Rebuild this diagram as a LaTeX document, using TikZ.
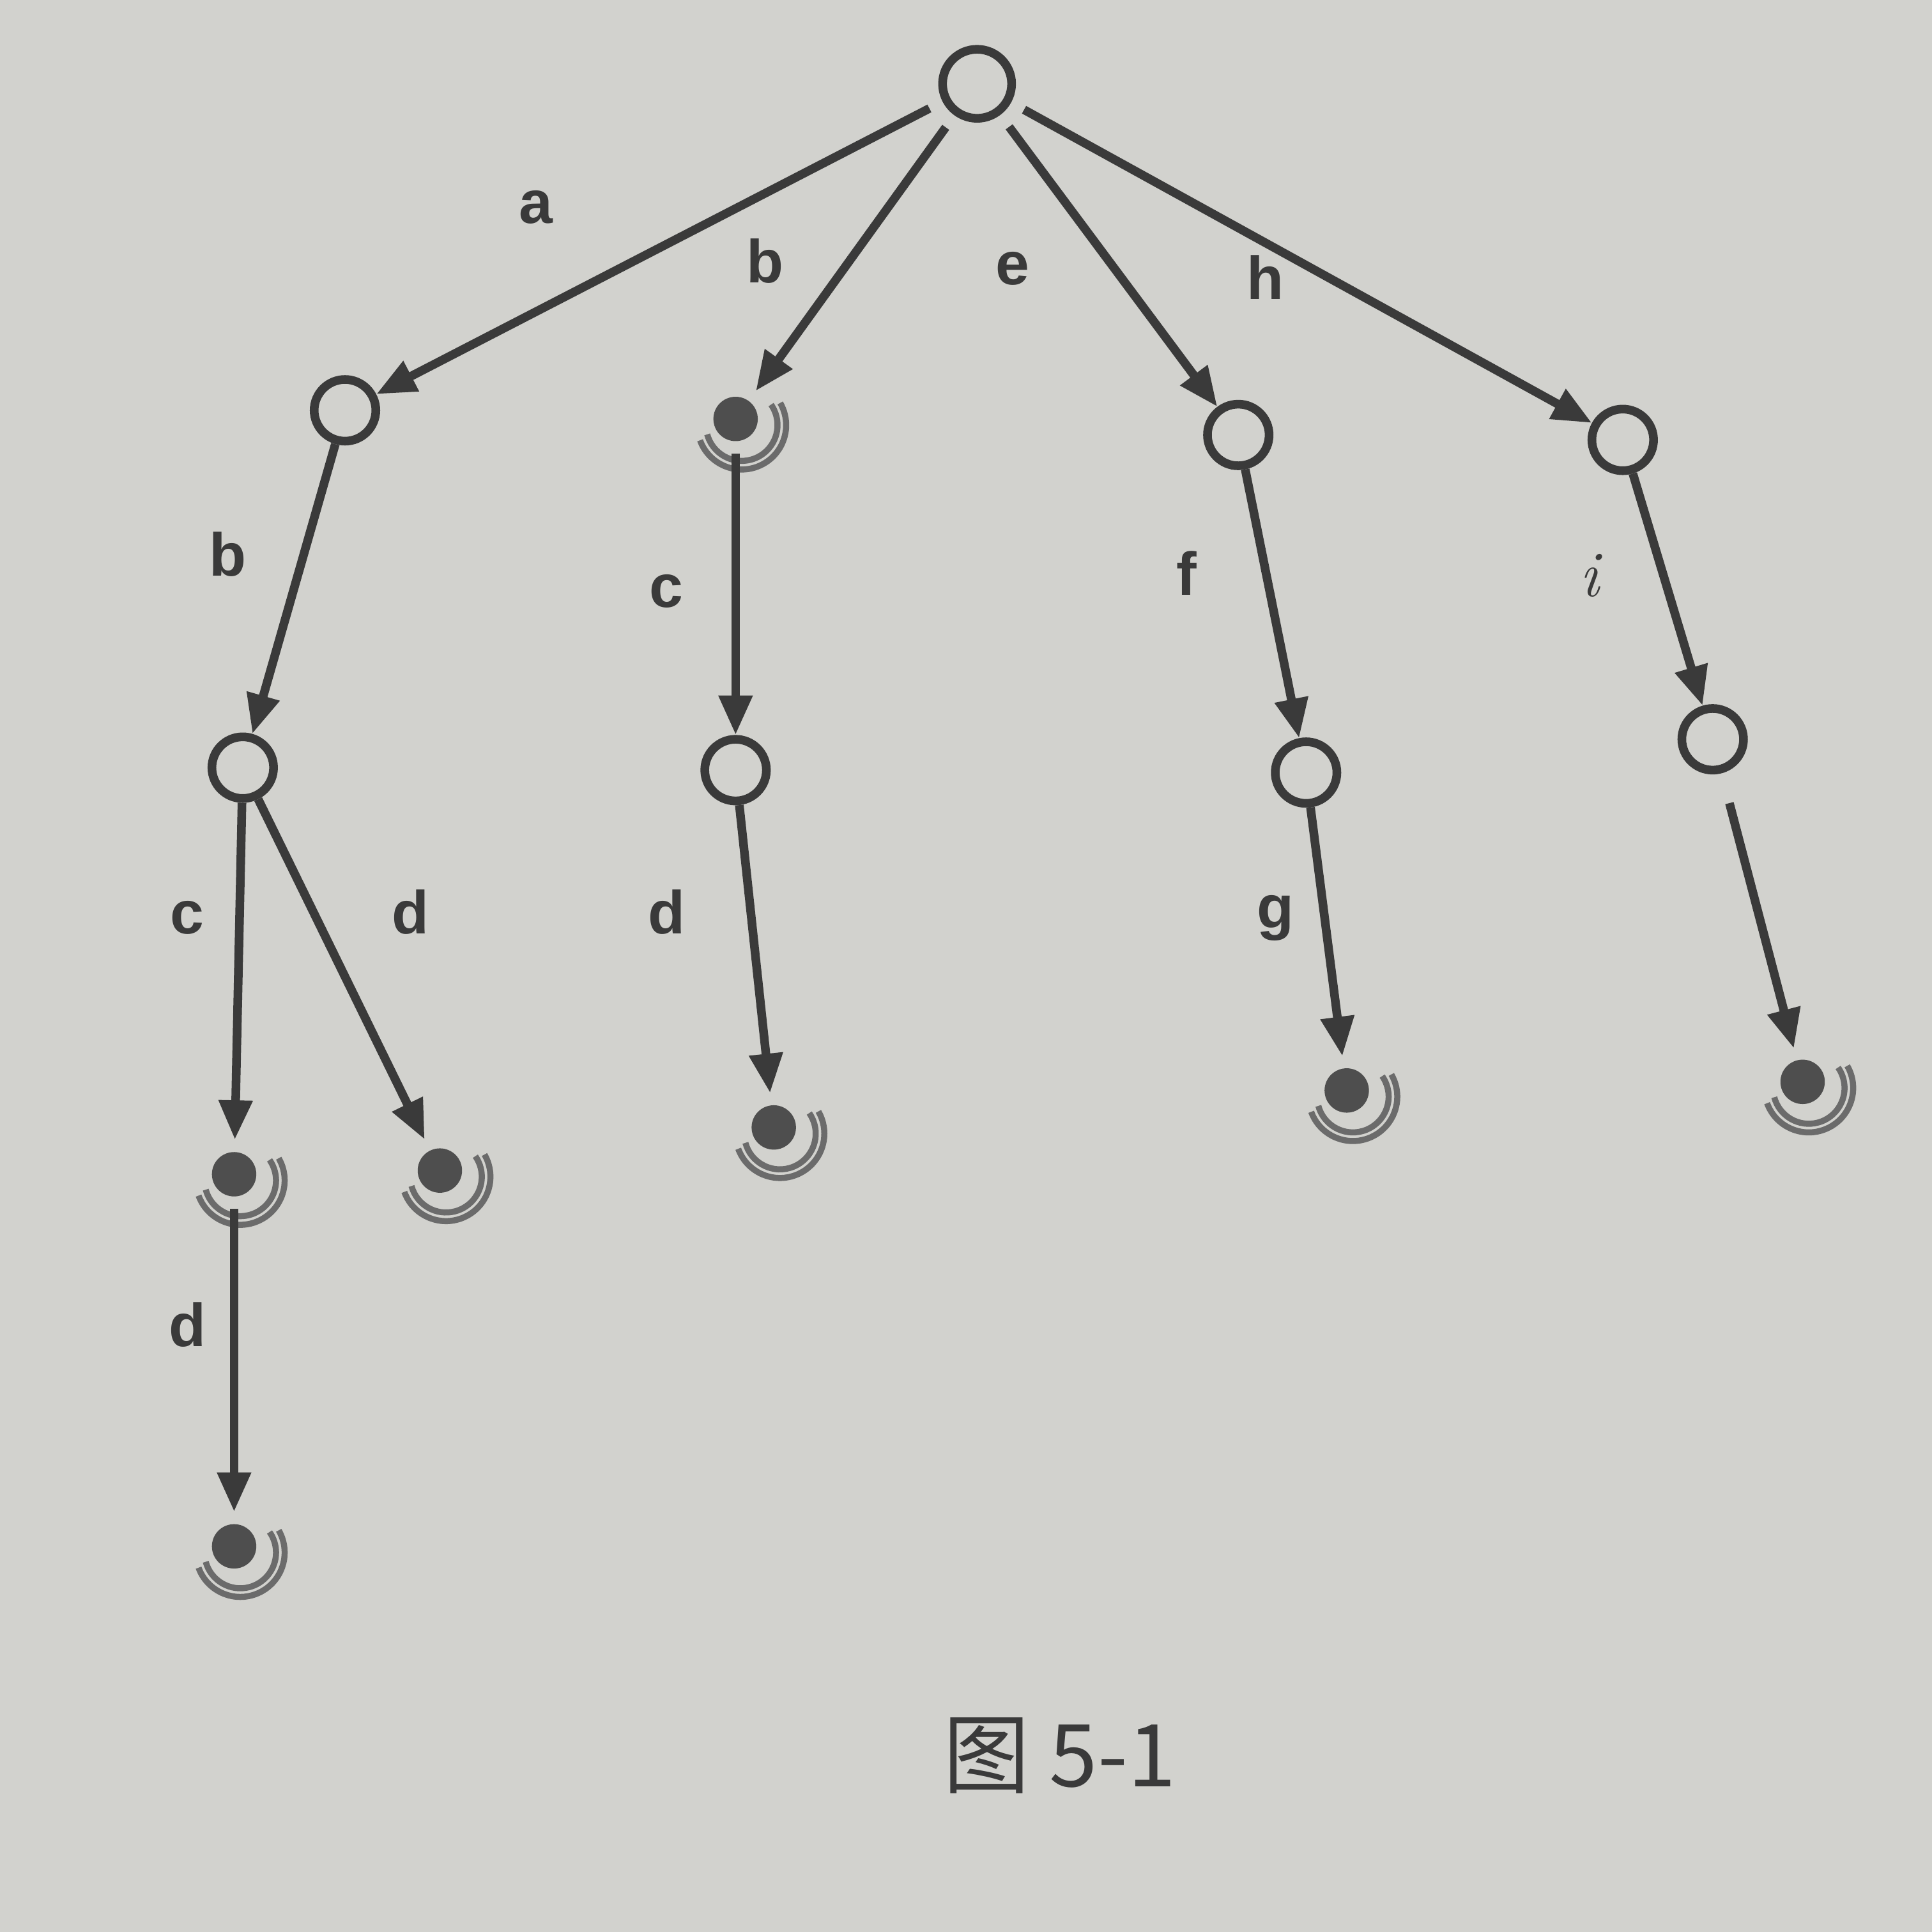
\documentclass[tikz,border=0pt]{standalone}
\usepackage{fontspec}
\setsansfont{Liberation Sans}
\newfontfamily\cjk{Noto Sans CJK SC}
\usetikzlibrary{arrows.meta}
\definecolor{ink}{RGB}{58,58,58}
\definecolor{paper}{RGB}{210,210,206}

\begin{document}
\begin{tikzpicture}[x=0.01cm, y=-0.01cm,
  open/.style={circle, draw=ink, line width=2pt, fill=paper, minimum size=0.5cm, inner sep=0pt},
  term/.style={circle, fill=ink!90, minimum size=0.36cm, inner sep=0pt, outer sep=0.1cm},
  link/.style={draw=ink, line width=2pt, -{Triangle[length=0.32cm,width=0.26cm]}},
  lbl/.style={text=ink, font=\sffamily\bfseries\fontsize{14}{16}\selectfont},
  halo/.style={draw=ink!75, line width=1.4pt}]
\fill[paper] (0,0) rectangle (1568,1568);
\useasboundingbox (0,0) rectangle (1568,1568);

% nodes of the trie
\node[open, minimum size=0.56cm] (root) at (793,68) {};
\node[open] (a) at (280,333) {};
\node[term] (b) at (597,340) {};
\node[open] (e) at (1005,353) {};
\node[open] (h) at (1317,357) {};
\node[open] (ab) at (197,623) {};
\node[open] (bc) at (597,625) {};
\node[open] (ef) at (1060,627) {};
\node[open] (hi) at (1390,600) {};
\node[term] (abc) at (190,953) {};
\node[term] (abd) at (357,950) {};
\node[term] (bcd) at (628,915) {};
\node[term] (efg) at (1093,885) {};
\node[term] (hix) at (1463,878) {};
\node[term] (abcd) at (190,1255) {};

% rings under the end-of-word nodes
\foreach \n in {b,abc,abd,bcd,efg,hix,abcd}{
  \draw[halo] ([shift={(195:0.29cm)}]\n.center) ++(0.05cm,-0.05cm) arc[start angle=195, end angle=395, radius=0.29cm];
  \draw[halo] ([shift={(200:0.36cm)}]\n.center) ++(0.05cm,-0.05cm) arc[start angle=200, end angle=390, radius=0.36cm];
}

% edges
\draw[link, shorten <=0.12cm] (root) -- (a);
\draw[link, shorten <=0.12cm] (root) -- (b);
\draw[link, shorten <=0.12cm] (root) -- (e);
\draw[link, shorten <=0.12cm] (root) -- (h);
\draw[link] (a) -- (ab);
\draw[link] (b) -- (bc);
\draw[link] (e) -- (ef);
\draw[link] (h) -- (hi);
\draw[link] (ab) -- (abc);
\draw[link] (ab) -- (abd);
\draw[link] (bc) -- (bcd);
\draw[link] (ef) -- (efg);
\draw[link, shorten <=0.25cm] (hi) -- (hix);
\draw[link] (abc) -- (abcd);

% edge letters
\node[lbl] (la) at (435,168) {a};
\node[lbl] (lb) at (621,212) {b};
\node[lbl] (le) at (822,218) {e};
\node[lbl] (lh) at (1027,225) {h};
\node[lbl] (lab) at (185,450) {b};
\node[lbl] (lbc) at (541,480) {c};
\node[lbl] (lef) at (963,465) {f};
\node[text=ink, font=\fontsize{15}{17}\selectfont\itshape] (lhi) at (1290,467) {i};
\node[lbl] (labc) at (152,745) {c};
\node[lbl] (labd) at (333,740) {d};
\node[lbl] (lbcd) at (541,740) {d};
\node[lbl] (lefg) at (1035,745) {g};
\node[lbl] (labcd) at (152,1075) {d};

\node[text=ink, font=\cjk\fontsize{20}{24}\selectfont] (cap) at (860,1425) {图 5-1};
\end{tikzpicture}
\end{document}
